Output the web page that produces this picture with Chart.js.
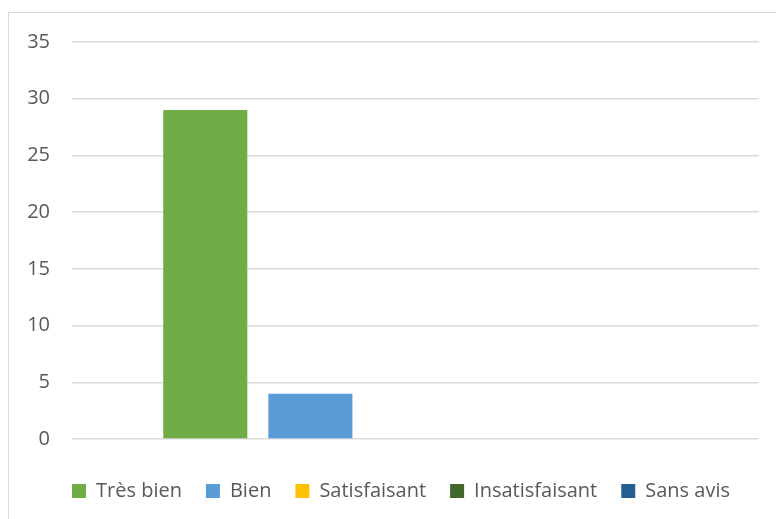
<!DOCTYPE html>
<html>
<head>
<meta charset="utf-8">
<script src="https://cdn.jsdelivr.net/npm/chart.js@4"></script>
<style>
  body { margin: 0; background: #fff; overflow: hidden; }
  #frame { position: absolute; left: 8px; top: 12px; width: 800px; height: 540px; border: 1.5px solid #d9d9d9; }
  #wrap { position: absolute; left: 0; top: 0; width: 776px; height: 519px; }
</style>
</head>
<body>
<div id="frame"></div>
<div id="wrap"><canvas id="myChart"></canvas></div>
<script>
// data

var categories   = [""];
var seriesNames  = ["Très bien", "Bien", "Satisfaisant", "Insatisfaisant", "Sans avis"];
var seriesValues = [29, 4, 0, 0, 0];
var seriesColors = ["#70AD47", "#5B9BD5", "#FFC000", "#43682B", "#255E91"];
var yTicks       = [0, 5, 10, 15, 20, 25, 30, 35];

// build datasets

var datasets = [];
for (var i = 0; i < seriesNames.length; i++)
{
    datasets.push({
        label: seriesNames[i],
        data: [seriesValues[i]],
        backgroundColor: seriesColors[i],
        borderWidth: 0,
        categoryPercentage: 0.765,
        barPercentage: 0.8
    });
}

var ctx = document.getElementById('myChart');
var myChart = new Chart(ctx.getContext('2d'), {
    type: 'bar',
    data: {
        labels: categories,
        datasets: datasets
    },
    options: {
        responsive: true,
        maintainAspectRatio: false,
        animation: false,
        layout: { padding: { left: 26, right: 0, top: 42, bottom: 8 } },
        plugins: {
            tooltip: { enabled: false },
            legend: {
                position: 'bottom',
                labels: {
                    color: '#595959',
                    font: { family: 'Open Sans', size: 20 },
                    boxWidth: 14,
                    boxHeight: 14,
                    padding: 24
                }
            }
        },
        scales: {
            x: {
                afterFit: function(axis) { axis.height = 18; },
                ticks: { display: false },
                grid: { display: false },
                border: { display: false }
            },
            y: {
                min: 0,
                max: yTicks[yTicks.length - 1],
                afterBuildTicks: function(axis) {
                    axis.ticks = yTicks.map(function(v) { return { value: v }; });
                },
                afterFit: function(axis) { axis.width = 46; },
                ticks: {
                    color: '#595959',
                    font: { family: 'Open Sans', size: 20 },
                    padding: 22
                },
                grid: { color: '#d9d9d9', lineWidth: 1.5, drawTicks: false },
                border: { display: false }
            },
            // empty right margin so the plot stops where the reference does
            yRight: {
                position: 'right',
                min: 0,
                max: 1,
                afterFit: function(axis) { axis.width = 17; },
                ticks: { display: false },
                grid: { display: false },
                border: { display: false }
            }
        }
    }
});
</script>
</body>
</html>
